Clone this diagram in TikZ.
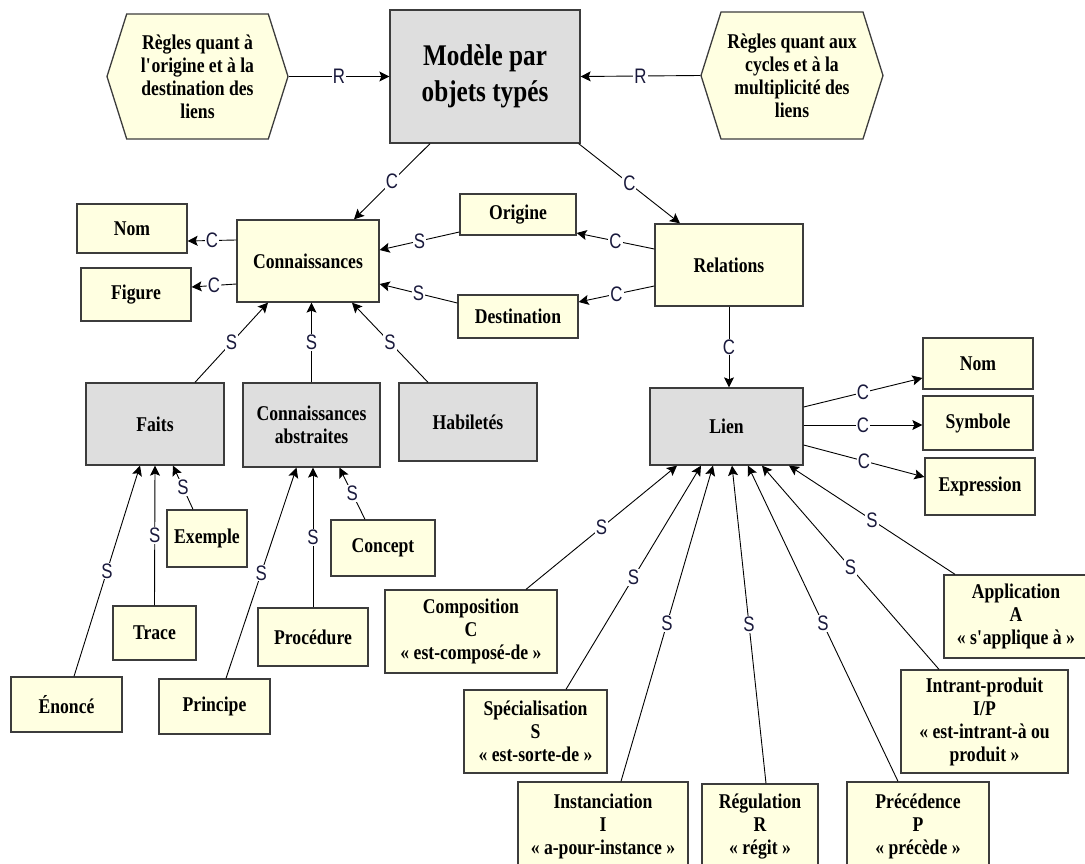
\documentclass[tikz,border=0pt]{standalone}
\usepackage{fontspec}
\setmainfont[FakeStretch=0.84]{Liberation Serif}
\newfontfamily\lblfont[FakeStretch=0.8]{Liberation Sans}
\usepackage{tikz}
\usetikzlibrary{shapes.symbols,arrows.meta}
\definecolor{cream}{RGB}{255,255,225}
\definecolor{boxgray}{RGB}{222,222,222}
\definecolor{edge}{RGB}{60,60,60}
\definecolor{lblblue}{RGB}{25,25,60}

\begin{document}
\begin{tikzpicture}[x=1pt,y=-1pt,
    cbox/.style={draw=edge, line width=1.3pt, fill=cream, align=center, font=\fontsize{21}{23}\selectfont\bfseries},
    gbox/.style={cbox, fill=boxgray},
    hexa/.style={cbox, signal, signal to=west and east, signal pointer angle=145},
    lk/.style={draw=black, line width=0.9pt, -{Stealth[length=10pt,width=10pt,inset=2pt]}},
    lbl/.style={fill=white, inner sep=1pt, text=lblblue, font=\lblfont\fontsize{21}{21}\selectfont}]
        \useasboundingbox (0,0) rectangle (1085,864);

        % top row
        \node[hexa, minimum width=181pt, minimum height=125pt] (regA) at (197.5,76.5) {Règles quant à\\l\textquotesingle origine et à la\\destination des\\liens};
        \node[gbox, minimum width=190pt, minimum height=133pt, font=\fontsize{30}{36}\selectfont\bfseries] (mod) at (485,76.5) {Modèle par\\objets typés};
        \node[hexa, minimum width=182pt, minimum height=127pt] (regB) at (792,75.5) {Règles quant aux\\cycles et à la\\multiplicité des\\liens};

        % connaissances / relations
        \node[cbox, minimum width=142pt, minimum height=82pt] (conn) at (308,261) {Connaissances};
        \node[cbox, minimum width=110pt, minimum height=49pt] (nomA) at (132,228.5) {Nom};
        \node[cbox, minimum width=110pt, minimum height=53pt] (fig) at (136,294.5) {Figure};
        \node[cbox, minimum width=116pt, minimum height=41pt] (orig) at (518,214.5) {Origine};
        \node[cbox, minimum width=120pt, minimum height=43pt] (dest) at (518,316.5) {Destination};
        \node[cbox, minimum width=148pt, minimum height=82pt] (rel) at (729,265) {Relations};

        % sortes de connaissances
        \node[gbox, minimum width=138pt, minimum height=82pt] (faits) at (155,424) {Faits};
        \node[gbox, minimum width=137pt, minimum height=84pt] (cabs) at (311.5,425) {Connaissances\\abstraites};
        \node[gbox, minimum width=138pt, minimum height=78pt] (hab) at (468,422) {Habiletés};
        \node[cbox, minimum width=80pt, minimum height=57pt] (exe) at (207,538.5) {Exemple};
        \node[cbox, minimum width=83pt, minimum height=54pt] (trace) at (154.5,633) {Trace};
        \node[cbox, minimum width=111pt, minimum height=55pt] (enon) at (66.5,704.5) {Énoncé};
        \node[cbox, minimum width=104pt, minimum height=56pt] (conc) at (383,548) {Concept};
        \node[cbox, minimum width=110pt, minimum height=58pt] (proc) at (313,637) {Procédure};
        \node[cbox, minimum width=111pt, minimum height=55pt] (princ) at (214.5,706.5) {Principe};

        % lien et sortes de liens
        \node[gbox, minimum width=153pt, minimum height=77pt] (lien) at (726.5,426.5) {Lien};
        \node[cbox, minimum width=110pt, minimum height=51pt] (nomB) at (978,363.5) {Nom};
        \node[cbox, minimum width=110pt, minimum height=54pt] (sym) at (978,423) {Symbole};
        \node[cbox, minimum width=110pt, minimum height=57pt] (expr) at (980,486.5) {Expression};
        \node[cbox, minimum width=172pt, minimum height=83pt] (comp) at (471,631.5) {Composition\\C\\« est-composé-de »};
        \node[cbox, minimum width=143pt, minimum height=83pt] (spec) at (535.5,731.5) {Spécialisation\\S\\« est-sorte-de »};
        \node[cbox, minimum width=170pt, minimum height=88pt] (inst) at (603,826) {Instanciation\\I\\« a-pour-instance »};
        \node[cbox, minimum width=116pt, minimum height=86pt] (regu) at (760,827) {Régulation\\R\\« régit »};
        \node[cbox, minimum width=142pt, minimum height=88pt] (prec) at (918,826) {Précédence\\P\\« précède »};
        \node[cbox, minimum width=167pt, minimum height=103pt] (intr) at (984.5,721.5) {Intrant-produit\\I/P\\« est-intrant-à ou\\produit »};
        \node[cbox, minimum width=144pt, minimum height=83pt] (appl) at (1016,616.5) {Application\\A\\« s\textquotesingle applique à »};

        % liens R et C du haut
        \draw[lk] (regA.east) -- node[lbl] {R} (mod.west);
        \draw[lk] (regB.west) -- node[lbl] {R} (mod.east);
        \draw[lk] ([xshift=-55pt]mod.south) -- node[lbl] {C} ([xshift=46pt]conn.north);
        \draw[lk] ([xshift=-2pt]mod.south east) -- node[lbl] {C} ([xshift=-49pt]rel.north);
        \draw[lk] ([yshift=21pt]conn.west) -- node[lbl] {C} ([yshift=-12.5pt]nomA.east);
        \draw[lk] ([yshift=-23pt]conn.west) -- node[lbl] {C} ([yshift=7.5pt]fig.east);
        \draw[lk] ([yshift=-17.5pt]orig.west) -- node[lbl] {S} ([yshift=11pt]conn.east);
        \draw[lk] ([yshift=13.5pt]dest.west) -- node[lbl] {S} ([yshift=-23pt]conn.east);
        \draw[lk] ([yshift=16pt]rel.west) -- node[lbl] {C} ([yshift=-18.5pt]orig.east);
        \draw[lk] ([yshift=-21pt]rel.west) -- node[lbl] {C} ([yshift=14.5pt]dest.east);
        \draw[lk] ([xshift=40pt]faits.north) -- node[lbl] {S} ([xshift=-40pt]conn.south);
        \draw[lk] (cabs.north) -- node[lbl] {S} ([xshift=3.5pt]conn.south);
        \draw[lk] ([xshift=-40pt]hab.north) -- node[lbl] {S} ([xshift=44pt]conn.south);
        \draw[lk] (rel.south) -- node[lbl] {C} ([xshift=2.5pt]lien.north);

        % attributs du lien
        \draw[lk] ([yshift=19.5pt]lien.east) -- node[lbl] {C} ([yshift=-14.5pt]nomB.west);
        \draw[lk] ([yshift=1.5pt]lien.east) -- node[lbl] {C} ([yshift=-2pt]sym.west);
        \draw[lk] ([yshift=-18.5pt]lien.east) -- node[lbl] {C} ([yshift=9.5pt]expr.west);

        % sous-sortes
        \draw[lk] ([xshift=7.5pt]enon.north) -- node[lbl] {S} ([xshift=-15pt]faits.south);
        \draw[lk] (trace.north) -- node[lbl] {S} (faits.south);
        \draw[lk] ([xshift=-14pt]exe.north) -- node[lbl] {S} ([xshift=18pt]faits.south);
        \draw[lk] ([xshift=11.5pt]princ.north) -- node[lbl] {S} ([xshift=-15pt]cabs.south);
        \draw[lk] (proc.north) -- node[lbl] {S} ([xshift=1.5pt]cabs.south);
        \draw[lk] ([xshift=-18pt]conc.north) -- node[lbl] {S} ([xshift=28pt]cabs.south);

        \draw[lk] ([xshift=55pt]comp.north) -- node[lbl] {S} ([xshift=-49.5pt]lien.south);
        \draw[lk] ([xshift=30.5pt]spec.north) -- node[lbl] {S} ([xshift=-25.5pt]lien.south);
        \draw[lk] ([xshift=18pt]inst.north) -- node[lbl] {S} ([xshift=-13.5pt]lien.south);
        \draw[lk] ([xshift=6pt]regu.north) -- node[lbl] {S} ([xshift=5.5pt]lien.south);
        \draw[lk] ([xshift=-20pt]prec.north) -- node[lbl] {S} ([xshift=21.5pt]lien.south);
        \draw[lk] ([xshift=-45.5pt]intr.north) -- node[lbl] {S} ([xshift=35.5pt]lien.south);
        \draw[lk] ([xshift=-61pt]appl.north) -- node[lbl] {S} ([xshift=62.5pt]lien.south);
      \end{tikzpicture}
\end{document}
